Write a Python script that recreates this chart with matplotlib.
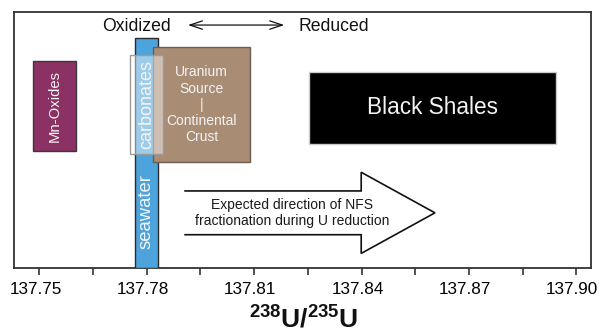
import matplotlib
matplotlib.use("Agg")
import matplotlib.pyplot as plt
from matplotlib.patches import Rectangle
from matplotlib.transforms import ScaledTranslation

plt.rcParams["font.family"] = ["Liberation Sans", "DejaVu Sans"]
plt.rcParams["mathtext.fontset"] = "custom"
plt.rcParams["mathtext.bf"] = "Liberation Sans:bold"
plt.rcParams["mathtext.rm"] = "Liberation Sans"

# Reservoir ranges of 238U/235U (x extent) and their vertical placement (0-1)
reservoirs = ["Mn-Oxides", "seawater", "Uranium\nSource\n|\nContinental\nCrust",
              "carbonates", "Black Shales"]
x_lo = [137.7481, 137.7767, 137.7818, 137.7753, 137.8253]
x_hi = [137.7603, 137.7831, 137.8088, 137.7844, 137.8942]
y_lo = [0.457, 0.0, 0.413, 0.444, 0.484]
y_hi = [0.810, 0.898, 0.862, 0.832, 0.767]
face = ["#8b3163", "#4da3dc", "#a88c74", (1, 1, 1, 0.45), "#000000"]
edge = ["#3a3a3a", "#2a2a2a", "#6e5d50", "#9a9a9a", "#cccccc"]
label_size = [10.7, 13.3, 10, 13, 16.3]
label_rot = [90, 90, 0, 90, 0]

# Hollow arrow: direction of NFS fractionation during U reduction
arrow_x = [137.7907, 137.8399, 137.8399, 137.8605, 137.8399, 137.8399, 137.7907]
arrow_y = [0.301, 0.301, 0.374, 0.2155, 0.057, 0.130, 0.130]

xticks = [137.75, 137.765, 137.78, 137.795, 137.81, 137.825, 137.84,
          137.855, 137.87, 137.885, 137.90]
xtick_labels = ["137.75", "", "137.78", "", "137.81", "", "137.84",
                "", "137.87", "", "137.90"]

fig = plt.figure(figsize=(6.01, 3.34), dpi=100)
ax = fig.add_axes([14 / 601, 1 - 268 / 334, 577 / 601, 256 / 334])
ax.set_xlim(137.7429, 137.9041)
ax.set_ylim(0, 1)

for i, name in enumerate(reservoirs):
    ax.add_patch(Rectangle((x_lo[i], y_lo[i]), x_hi[i] - x_lo[i], y_hi[i] - y_lo[i],
                           facecolor=face[i], edgecolor=edge[i], linewidth=1.0,
                           zorder=2 + i))

# labels drawn on top of all boxes
seawater_label_y = 0.22
for i, name in enumerate(reservoirs):
    cx = (x_lo[i] + x_hi[i]) / 2
    cy = (y_lo[i] + y_hi[i]) / 2
    if name == "seawater":
        cy = seawater_label_y
    ax.text(cx, cy, name, color="#f4f4f4", fontsize=label_size[i],
            rotation=label_rot[i], ha="center", va="center",
            linespacing=1.2, zorder=20)

ax.plot(arrow_x, arrow_y, color="#111111", linewidth=1.2, zorder=10,
        solid_joinstyle="miter")
ax.text(137.8207, 0.2155, "Expected direction of NFS\nfractionation during U reduction",
        fontsize=10, ha="center", va="center", color="#1a1a1a", linespacing=1.15,
        zorder=11)

# Oxidized <-> Reduced
ax.annotate("", xy=(137.8184, 0.949), xytext=(137.7915, 0.949),
            arrowprops=dict(arrowstyle="<->,head_length=0.9,head_width=0.3",
                            color="#111111", linewidth=0.9,
                            shrinkA=0, shrinkB=0))
ax.text(137.7867, 0.945, "Oxidized", fontsize=12.7, ha="right", va="center",
        color="#111111")
ax.text(137.8223, 0.945, "Reduced", fontsize=12.7, ha="left", va="center",
        color="#111111")

ax.set_xticks(xticks)
ax.set_xticklabels(xtick_labels)
ax.set_yticks([])
ax.tick_params(axis="x", direction="out", length=5, width=1.2, color="#333333",
               labelsize=12.3, pad=5)
shift = ScaledTranslation(-4 / 100, 0, fig.dpi_scale_trans)
for lab in ax.get_xticklabels():
    lab.set_transform(lab.get_transform() + shift)
for s in ax.spines.values():
    s.set_linewidth(1.3)
    s.set_color("#333333")

fig.text(304 / 601, 1 / 334, r"$\mathbf{^{238}U/^{235}U}$", fontsize=19,
         ha="center", va="bottom", color="#111111")

fig.savefig("out.png", dpi=100)
